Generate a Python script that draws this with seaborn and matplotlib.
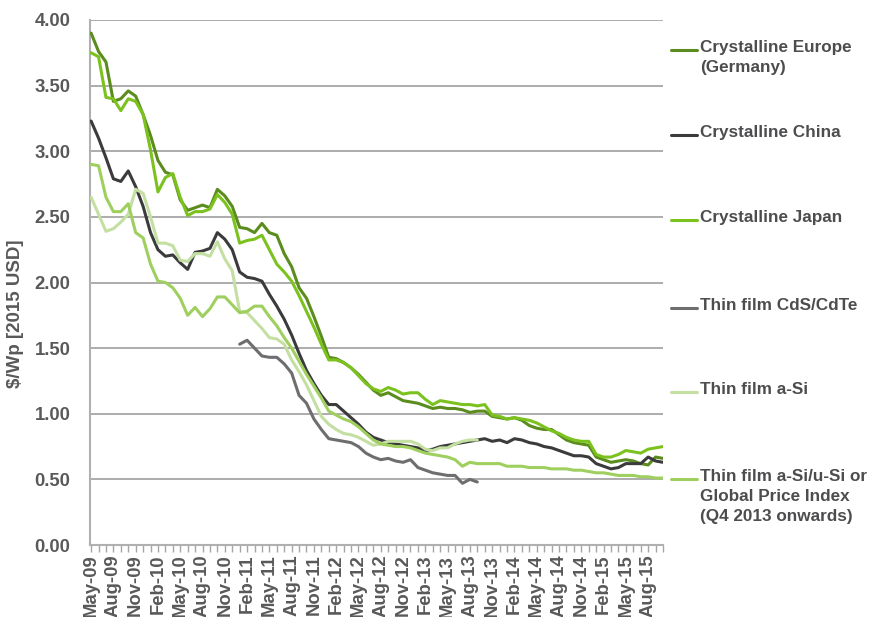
import numpy as np
import pandas as pd
import matplotlib
matplotlib.use("Agg")
import matplotlib.pyplot as plt
from matplotlib.lines import Line2D
from matplotlib.ticker import FixedLocator, FuncFormatter
import seaborn as sns

months = pd.date_range("2009-05-01", "2015-10-01", freq="MS")
month_labels = [d.strftime("%b-%y") for d in months]
y_ticks = [0.0, 0.5, 1.0, 1.5, 2.0, 2.5, 3.0, 3.5, 4.0]

crystalline_europe = [3.90, 3.76, 3.68, 3.38, 3.40, 3.46, 3.42, 3.28, 3.12, 2.93, 2.84, 2.82,
                      2.63, 2.55, 2.57, 2.59, 2.57, 2.71, 2.66, 2.58, 2.42, 2.41, 2.38, 2.45,
                      2.38, 2.36, 2.22, 2.12, 1.96, 1.88, 1.74, 1.59, 1.43, 1.42, 1.39, 1.35,
                      1.30, 1.24, 1.18, 1.14, 1.16, 1.13, 1.10, 1.09, 1.08, 1.06, 1.04, 1.05,
                      1.04, 1.04, 1.03, 1.01, 1.02, 1.02, 0.98, 0.97, 0.96, 0.97, 0.95, 0.91,
                      0.89, 0.88, 0.88, 0.84, 0.80, 0.78, 0.77, 0.76, 0.67, 0.65, 0.63, 0.64,
                      0.65, 0.64, 0.62, 0.61, 0.67, 0.66]
crystalline_china = [3.23, 3.10, 2.95, 2.79, 2.77, 2.85, 2.73, 2.58, 2.38, 2.25, 2.20, 2.21,
                     2.15, 2.10, 2.23, 2.24, 2.26, 2.38, 2.33, 2.25, 2.08, 2.04, 2.03, 2.01,
                     1.91, 1.82, 1.72, 1.60, 1.46, 1.33, 1.23, 1.14, 1.07, 1.07, 1.02, 0.97,
                     0.92, 0.86, 0.82, 0.80, 0.78, 0.77, 0.76, 0.75, 0.74, 0.72, 0.73, 0.75,
                     0.76, 0.77, 0.78, 0.79, 0.80, 0.81, 0.79, 0.80, 0.78, 0.81, 0.80, 0.78,
                     0.77, 0.75, 0.74, 0.72, 0.70, 0.68, 0.68, 0.67, 0.62, 0.60, 0.58, 0.59,
                     0.62, 0.62, 0.62, 0.67, 0.64, 0.63]
crystalline_japan = [3.75, 3.72, 3.41, 3.40, 3.31, 3.40, 3.38, 3.28, 3.01, 2.69, 2.80, 2.83,
                     2.65, 2.51, 2.54, 2.54, 2.56, 2.67, 2.61, 2.52, 2.30, 2.32, 2.33, 2.36,
                     2.25, 2.14, 2.08, 2.01, 1.90, 1.78, 1.66, 1.53, 1.41, 1.41, 1.39, 1.35,
                     1.29, 1.23, 1.19, 1.17, 1.20, 1.18, 1.15, 1.16, 1.16, 1.11, 1.07, 1.10,
                     1.09, 1.08, 1.07, 1.07, 1.06, 1.07, 0.99, 0.98, 0.96, 0.97, 0.96, 0.95,
                     0.93, 0.90, 0.87, 0.85, 0.82, 0.80, 0.79, 0.79, 0.69, 0.67, 0.67, 0.69,
                     0.72, 0.71, 0.70, 0.73, 0.74, 0.75]
thin_cdte = [np.nan] * 20 + [1.53, 1.56, 1.50, 1.44, 1.43, 1.43, 1.38, 1.31, 1.14, 1.08,
                             0.96, 0.88, 0.81, 0.80, 0.79, 0.78, 0.75, 0.70, 0.67, 0.65,
                             0.66, 0.64, 0.63, 0.65, 0.59, 0.57, 0.55, 0.54, 0.53, 0.53,
                             0.47, 0.50, 0.48] + [np.nan] * 25
thin_asi = [2.65, 2.52, 2.39, 2.41, 2.46, 2.52, 2.71, 2.68, 2.50, 2.30, 2.30, 2.28,
            2.17, 2.16, 2.22, 2.22, 2.20, 2.31, 2.18, 2.09, 1.78, 1.77, 1.71, 1.65,
            1.58, 1.57, 1.53, 1.41, 1.32, 1.22, 1.10, 0.98, 0.92, 0.88, 0.85, 0.84,
            0.82, 0.79, 0.76, 0.77, 0.79, 0.79, 0.79, 0.79, 0.77, 0.73, 0.72, 0.74,
            0.74, 0.77, 0.79, 0.80, 0.80] + [np.nan] * 25
thin_asi_usi_global = [2.90, 2.89, 2.65, 2.54, 2.54, 2.60, 2.38, 2.34, 2.14, 2.01, 2.00, 1.96,
                       1.88, 1.75, 1.81, 1.74, 1.80, 1.89, 1.89, 1.83, 1.77, 1.78, 1.82, 1.82,
                       1.74, 1.67, 1.58, 1.50, 1.40, 1.30, 1.21, 1.12, 1.02, 0.99, 0.96, 0.94,
                       0.90, 0.85, 0.80, 0.77, 0.76, 0.75, 0.75, 0.74, 0.72, 0.70, 0.69, 0.68,
                       0.67, 0.65, 0.60, 0.63, 0.62, 0.62, 0.62, 0.62, 0.60, 0.60, 0.60, 0.59,
                       0.59, 0.59, 0.58, 0.58, 0.58, 0.57, 0.57, 0.56, 0.55, 0.55, 0.54, 0.53,
                       0.53, 0.53, 0.52, 0.52, 0.51, 0.51]

series_names = ["Crystalline Europe\n(Germany)", "Crystalline China", "Crystalline Japan",
                "Thin film CdS/CdTe", "Thin film a-Si",
                "Thin film a-Si/u-Si or\nGlobal Price Index\n(Q4 2013 onwards)"]
series_values = [crystalline_europe, crystalline_china, crystalline_japan,
                 thin_cdte, thin_asi, thin_asi_usi_global]
colors = ["#5b8c1e", "#3b3b3d", "#7cc21f", "#6e6e70", "#c4dfa2", "#9fcf5e"]

sns.set_theme(style="white")
plt.rcParams["font.family"] = ["Liberation Sans", "DejaVu Sans"]
text_color = "#595959"

fig = plt.figure(figsize=(8.77, 6.17), dpi=100)
ax = fig.add_axes([90 / 877, 1 - 545 / 617, 573 / 877, 525 / 617])

idx = np.arange(len(months))
for name, vals, col in zip(series_names, series_values, colors):
    df = pd.DataFrame({"idx": idx, "value": vals}).dropna()
    sns.lineplot(data=df, x="idx", y="value", color=col, linewidth=2.2, ax=ax,
                 legend=False, zorder=3)

ax.set_xlim(-0.15, 77)
ax.set_ylim(0, 4.0)
ax.yaxis.set_major_locator(FixedLocator(y_ticks))
ax.yaxis.set_major_formatter(FuncFormatter(lambda v, p: f"{v:.2f}"))
ax.grid(axis="y", color="#a6a6a6", linewidth=1.3, zorder=0)
ax.grid(axis="x", visible=False)

ax.xaxis.set_major_locator(FixedLocator(idx[::3]))
ax.set_xticklabels(month_labels[::3], rotation=90)
ax.xaxis.set_minor_locator(FixedLocator(idx))
ax.tick_params(axis="x", which="both", direction="out", length=5, width=1,
               color="#a6a6a6", bottom=True)
ax.tick_params(axis="x", which="major", labelsize=13.3, labelcolor=text_color, pad=2)
ax.tick_params(axis="y", which="major", length=0, labelsize=13.3,
               labelcolor=text_color, pad=14)
for lab in ax.get_xticklabels() + ax.get_yticklabels():
    lab.set_fontweight("bold")

for s in ["top", "right"]:
    ax.spines[s].set_visible(False)
for s in ["left", "bottom"]:
    ax.spines[s].set_color("#b0b0b0")
    ax.spines[s].set_linewidth(1.5)

ax.set_xlabel("")
ax.set_ylabel("$/Wp [2015 USD]", fontsize=13.5, fontweight="bold", color=text_color)
ax.yaxis.set_label_coords(-66 / 573, 0.44)

legend_y_px = [50, 135, 220, 308, 392, 479]
for name, col, ypx in zip(series_names, colors, legend_y_px):
    yf = 1 - ypx / 617
    fig.add_artist(Line2D([671 / 877, 697 / 877], [yf, yf], color=col, linewidth=2.2))
    fig.text(700 / 877, yf + 10 / 617, name, ha="left", va="top", fontsize=12.3,
             fontweight="bold", color="#4d4d4f", linespacing=1.4)

fig.savefig("out.png", dpi=100)
